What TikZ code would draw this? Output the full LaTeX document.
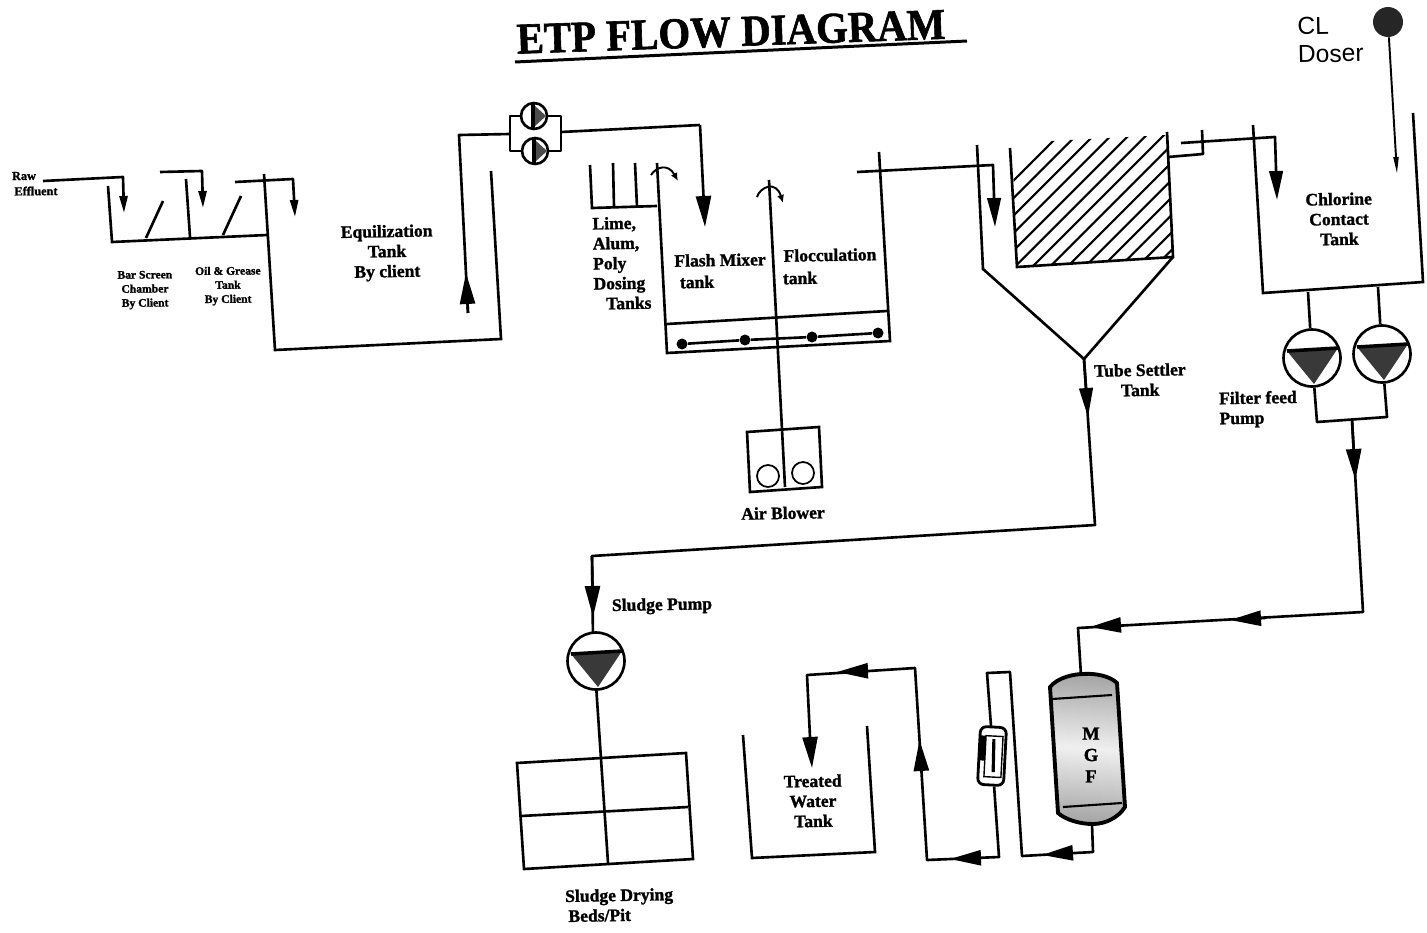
\documentclass[tikz,border=0pt]{standalone}
\usepackage{fontspec}
\setmainfont[BoldFeatures={FakeBold=1.4}]{Liberation Serif}
\newfontfamily\doserfont{Liberation Sans}
\usetikzlibrary{arrows.meta}
\tikzset{
    pipe/.style={line width=1.5pt, line join=round},
    flowarrow/.style={pipe, -{Triangle[length=0.58cm, width=0.27cm]}},
    midarrow/.style={pipe, -{Triangle[length=0.62cm, width=0.3cm]}},
    smallarrow/.style={pipe, -{Triangle[length=0.34cm, width=0.16cm]}},
    thinarrow/.style={line width=1.1pt, -{Triangle[length=0.34cm, width=0.1cm]}},
    curlarrow/.style={line width=1.1pt, -{Latex[length=0.16cm, width=0.14cm]}},
    tank/.style={line width=1.5pt, line join=miter},
    label/.style={font=\fontsize{10}{11.4}\selectfont\bfseries, align=center, inner sep=0pt, rotate=1},
    tinylabel/.style={font=\fontsize{6.6}{8}\selectfont\bfseries, align=center, inner sep=0pt, rotate=0.5},
    bigpump/.style={circle, draw, line width=1.5pt, fill=white, minimum size=1.14cm, inner sep=0pt},
    smallpump/.style={circle, draw, line width=1.5pt, fill=white, minimum size=0.52cm, inner sep=0pt},
    blowerfan/.style={circle, draw, line width=1pt, minimum size=0.44cm, inner sep=0pt},
    gear/.style={circle, fill=black, minimum size=0.22cm, inner sep=0pt}
}
\begin{document}
\begin{tikzpicture}[x=0.02cm, y=-0.02cm]
\useasboundingbox (0,0) rectangle (1427,933);

% Title
\node[font=\fontsize{25}{28}\selectfont\bfseries, inner sep=0pt, rotate=2, xscale=0.93] (title) at (731,32) {ETP FLOW DIAGRAM};
\coordinate (ulA) at (515,62);
\coordinate (ulB) at (967,41);
\draw[line width=1.7pt] (ulA) -- (ulB);

% Screen chamber and oil tank
\draw[tank] (108,186) -- (112,242) -- (267,235);
\draw[tank] (146,238) -- (163,201);
\draw[tank] (186,179) -- (190,237);
\draw[tank] (223,235) -- (241,196);

% Equalization tank
\draw[tank] (264,174) -- (275,350) -- (501,339) -- (491,171);

% Inlets on the left
\node[tinylabel, font=\fontsize{7}{8.6}\selectfont\bfseries] (raw) at (24,176) {Raw};
\node[tinylabel, font=\fontsize{7}{8.6}\selectfont\bfseries] (effluent) at (36,191) {Effluent};
\coordinate (rawA) at (43,181);
\coordinate (rawB) at (123,177);
\coordinate (rawC) at (124,213);
\draw[smallarrow] (rawA) -- (rawB) -- (rawC);
\coordinate (scrA) at (160,172);
\coordinate (scrB) at (202,171);
\coordinate (scrC) at (203,208);
\draw[smallarrow] (scrA) -- (scrB) -- (scrC);
\coordinate (oilA) at (235,182);
\coordinate (oilB) at (293,179);
\coordinate (oilC) at (295,217);
\draw[smallarrow] (oilA) -- (oilB) -- (oilC);

% Labels of the left tanks
\node[tinylabel] (screen) at (145,290) {Bar Screen\\Chamber\\By Client};
\node[tinylabel] (oil) at (228,286) {Oil \& Grease\\Tank\\By Client};
\node[label] (equal) at (387,253) {Equilization\\Tank\\By client};

% Transfer pumps
\node[smallpump] (tp1) at (534,116) {};
\node[smallpump] (tp2) at (535,151) {};
\foreach \p in {tp1,tp2} {
    \fill[gray!60!black, shift={(\p)}] (0,-11) -- (12,0) -- (0,11) -- cycle;
    \draw[line width=2.6pt, shift={(\p)}] (-1,-12) -- (-1,12);
}
\coordinate (eqA) at (468,313);
\coordinate (eqB) at (466,273);
\coordinate (eqC) at (459,135);
\coordinate (manL) at (510,134);
\coordinate (manR) at (561,132);
\coordinate (flashA) at (700,125);
\coordinate (flashB) at (705,227);
\draw[pipe] (eqA) -- (eqC) -- (manL);
\draw[midarrow] (eqA) -- (eqB);
\draw[pipe] (tp1) -- (manL |- tp1) -- (manL |- tp2) -- (tp2);
\draw[pipe] (tp1) -- (manR |- tp1) -- (manR |- tp2) -- (tp2);
\draw[pipe] (manR) -- (flashA);
\draw[midarrow] (flashA) -- (flashB);

% Dosing tanks
\draw[tank] (590,165) -- (592,208) -- (657,206);
\draw[tank] (613,163) -- (614,207);
\draw[tank] (635,163) -- (637,207);
\draw[curlarrow] (651,175) .. controls (656,167) and (668,163) .. (678,181);
\node[label, align=left, anchor=north west] (dosing) at (592,217) {Lime,\\Alum,\\Poly\\Dosing\\\hspace*{7pt}Tanks};

% Flash mixer and flocculation tank
\draw[tank] (657,163) -- (667,353) -- (890,341) -- (879,152);
\draw[tank] (667,324) -- (887,311);
\coordinate (airTop) at (769,180);
\coordinate (airEnd) at (785,487);
\draw[pipe] (airTop) -- (airEnd);
\draw[curlarrow] (757,197) .. controls (760,187) and (776,180) .. (783,203);
\node[gear] (dfA) at (682,344) {};
\node[gear] (dfB) at (745,340) {};
\node[gear] (dfC) at (812,337) {};
\node[gear] (dfD) at (878,333) {};
\draw[pipe] (dfA) -- (dfB) -- (dfC) -- (dfD);
\node[label] (flash) at (720,260) {Flash Mixer};
\node[label] (flashtank) at (697,282) {tank};
\node[label] (floc) at (830,255) {Flocculation};
\node[label] (floctank) at (800,278) {tank};

% Air blower
\draw[tank] (747,432) -- (819,427) -- (822,487) -- (750,492) -- cycle;
\node[blowerfan] (fan1) at (768,476) {};
\node[blowerfan] (fan2) at (803,473) {};
\node[label] (blower) at (783,513) {Air Blower};

% Tube settler
\draw[tank] (977,145) -- (983,269) -- (1084,359) -- (1173,257);
\draw[tank] (1010,148) -- (1017,267) -- (1173,257) -- (1167,132);
\begin{scope}
    \clip (1012,143) -- (1167,135) -- (1173,257) -- (1017,267) -- cycle;
    \foreach \c in {0,...,13} {
        \draw[line width=1.2pt] ({1194+17.5*\c-100},100) -- ({1194+17.5*\c-300},300);
    }
\end{scope}
\coordinate (setA) at (857,172);
\coordinate (setB) at (993,165);
\coordinate (setC) at (995,227);
\draw[flowarrow] (setA) -- (setB) -- (setC);
\node[label] (settler) at (1140,380) {Tube Settler\\Tank};

% Sludge line
\coordinate (apex) at (1084,359);
\coordinate (sluA) at (1088,417);
\coordinate (sluB) at (1095,525);
\coordinate (sluC) at (592,556);
\coordinate (sluD) at (593,617);
\coordinate (bedEnd) at (608,863);
\draw[pipe] (apex) -- (sluB) -- (sluC) -- (593,640);
\draw[flowarrow] (apex) -- (sluA);
\draw[midarrow] (sluC) -- (sluD);
\draw[pipe] (593,640) -- (bedEnd);
\node[bigpump] (sludgepump) at (596,661) {};
\node[label] (sludgelabel) at (662,606) {Sludge Pump};

% Drying beds
\draw[tank] (517,763) -- (686,753) -- (693,859) -- (524,869) -- cycle;
\draw[tank] (521,816) -- (688,807);
\node[label, align=left, anchor=west] (beds) at (565,906) {Sludge Drying\\\,Beds/Pit};

% Chlorine contact tank
\draw[tank] (1253,125) -- (1263,293) -- (1423,282) -- (1413,113);
\coordinate (ccA) at (1168,157);
\coordinate (ccB) at (1203,154);
\coordinate (ccC) at (1202,130);
\coordinate (ccD) at (1181,143);
\coordinate (ccE) at (1275,137);
\coordinate (ccF) at (1277,200);
\draw[pipe] (ccA) -- (ccB) -- (ccC);
\draw[flowarrow] (ccD) -- (ccE) -- (ccF);
\node[label] (chlorine) at (1339,219) {Chlorine\\Contact\\Tank};

% Doser
\node[circle, fill=black!85, minimum size=0.6cm, inner sep=0pt] (doser) at (1388,22) {};
\coordinate (doseEnd) at (1397,174);
\draw[thinarrow] (doser) -- (doseEnd);
\node[font=\doserfont\fontsize{14}{16}\selectfont, align=left, anchor=north west, inner sep=0pt, rotate=1] (doserlabel) at (1297,17) {CL\\Doser};

% Filter feed pumps
\node[bigpump] (fp1) at (1312,358) {};
\node[bigpump] (fp2) at (1382,354) {};
\coordinate (ccOut1) at (1308,292);
\coordinate (ccOut2) at (1378,287);
\draw[pipe] (ccOut1) -- (fp1);
\draw[pipe] (ccOut2) -- (fp2);
\coordinate (ffA) at (1317,422);
\coordinate (ffB) at (1387,417);
\coordinate (ffC) at (1352,420);
\coordinate (ffD) at (1355.4,480);
\coordinate (ffE) at (1363,612);
\coordinate (ffF) at (1265,618);
\coordinate (ffG) at (1230,620);
\coordinate (ffH) at (1120,625);
\coordinate (ffI) at (1090,627);
\coordinate (ffJ) at (1078,628);
\coordinate (ffK) at (1081,675);
\draw[pipe] (fp1) -- (ffA) -- (ffB) -- (fp2);
\draw[pipe] (ffC) -- (ffE) -- (ffJ) -- (ffK);
\draw[midarrow] (ffC) -- (ffD);
\draw[midarrow] (ffF) -- (ffG);
\draw[midarrow] (ffH) -- (ffI);
\foreach \p in {fp1,fp2,sludgepump} {
    \begin{scope}[shift={(\p)}]
        \fill[gray!45!black] (-25,-7) -- (26,-10) -- (2,26) -- cycle;
        \draw[line width=2pt] (-25,-7) -- (26,-10);
    \end{scope}
}
\node[label, align=left, anchor=west] (filterlabel) at (1219,410) {Filter feed\\Pump};

% MGF vessel
\draw[line width=2.2pt, left color=gray!70, right color=gray!70, middle color=gray!12, shading angle=-4]
    (1050,687) .. controls (1058,677) and (1075,674) .. (1083,674)
    .. controls (1095,673) and (1110,676) .. (1117,683)
    -- (1125,807) .. controls (1118,818) and (1105,824) .. (1093,824)
    .. controls (1080,824) and (1066,820) .. (1058,813) -- cycle;
\draw[line width=1.2pt] (1052,699) -- (1112,695);
\draw[line width=1.2pt] (1063,807) -- (1122,803);
\node[font=\fontsize{10.5}{12.2}\selectfont\bfseries, align=center, inner sep=0pt] (mgf) at (1091,755) {M\\G\\F};

% Line to the rotameter
\coordinate (mgfOut) at (1092,824);
\coordinate (mgfA) at (1093,852);
\coordinate (mgfB) at (1070,853);
\coordinate (mgfC) at (1042,855);
\coordinate (mgfD) at (1022,856);
\coordinate (mgfE) at (1010,672);
\coordinate (mgfF) at (987,673);
\draw[pipe] (mgfOut) -- (mgfA) -- (mgfD) -- (mgfE) -- (mgfF) -- (991,726);
\draw[midarrow] (mgfB) -- (mgfC);

% Rotameter
\node[draw, line width=1.6pt, fill=white, rounded corners=3.5pt, rotate=-3, minimum width=0.52cm, minimum height=1.16cm, inner sep=0pt] (rota) at (992,756) {};
\begin{scope}[shift={(rota)}, rotate=-3]
    \draw[line width=0.8pt] (-7,-20) rectangle (10,21);
    \fill (-13,-20) rectangle (-7,5);
    \draw[line width=1.8pt] (1,-17) -- (2,16);
\end{scope}

% Line to the treated water tank
\coordinate (rotaOut) at (999,857);
\coordinate (trA) at (975,858);
\coordinate (trB) at (950,859);
\coordinate (trC) at (927,860);
\coordinate (trD) at (921,765);
\coordinate (trE) at (919.5,740);
\coordinate (trF) at (915,668);
\coordinate (trG) at (862,671);
\coordinate (trH) at (837,672);
\coordinate (trI) at (807,675);
\coordinate (trJ) at (810,737);
\coordinate (trK) at (812,768);
\draw[pipe] (rota) -- (rotaOut) -- (trC) -- (trF) -- (trI) -- (trJ);
\draw[midarrow] (trA) -- (trB);
\draw[midarrow] (trD) -- (trE);
\draw[midarrow] (trG) -- (trH);
\draw[midarrow] (trJ) -- (trK);

% Treated water tank
\draw[tank] (743,735) -- (752,858) -- (875,852) -- (867,726);
\node[label] (treated) at (813,801) {Treated\\Water\\Tank};
\end{tikzpicture}
\end{document}
